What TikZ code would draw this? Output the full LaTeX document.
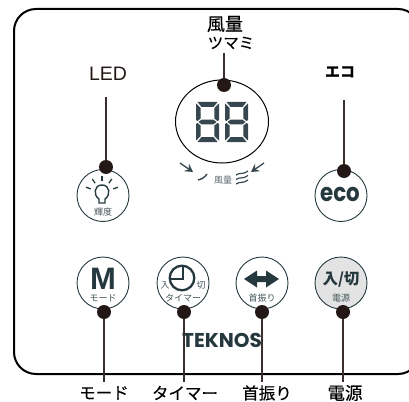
\documentclass[tikz,border=0pt]{standalone}
\usepackage{fontspec}
\setmainfont{Liberation Sans}
\newfontfamily\cjk{Noto Sans CJK JP}
\newfontface\cjkmed[FakeBold=0.25]{Noto Sans CJK JP}
\newfontfamily\logofont{Poppins}
\usetikzlibrary{shapes.geometric,arrows.meta}
\definecolor{panelink}{HTML}{24383E}
\definecolor{segink}{HTML}{36474F}
\definecolor{dotink}{HTML}{231815}
\tikzset{
  btn/.style={circle, draw=panelink, line width=0.9pt, inner sep=0pt, minimum size=52pt},
  dotmark/.style={circle, fill=dotink, inner sep=0pt, minimum size=14pt},
  leader/.style={draw=dotink!90!white, line width=1.2pt},
  biglabel/.style={font=\cjkmed\fontsize{16.5}{18}\selectfont, text=black, inner sep=0pt},
  smalllabel/.style={font=\cjk\fontsize{9}{10}\selectfont, text=panelink!85!white, inner sep=0pt},
}
\begin{document}
\begin{tikzpicture}[x=1pt,y=-1pt]
    \useasboundingbox (0,0) rectangle (409,401);

    % パネル
    \draw[line width=2pt, rounded corners=22pt] (14,9) rectangle (420,374);

    % ボタン
    \node[ellipse, draw=black, line width=1pt, inner sep=0pt, minimum width=93pt, minimum height=83pt] (dial) at (222,121.5) {};
    \node[btn] (ledbtn) at (103,195.5) {};
    \node[btn] (ecobtn) at (341,195.5) {};
    \node[btn] (modebtn) at (103,283) {};
    \node[btn] (timerbtn) at (183,283) {};
    \node[btn] (swingbtn) at (262,283) {};
    \node[btn, fill=black!11] (powerbtn) at (341,283) {};

    % 7セグ表示
    \foreach \x in {196,225} {
      \begin{scope}[shift={(\x,102)}, fill=segink]
        \fill (1.5,0) -- (21.5,0) -- (17.5,5) -- (5.5,5) -- cycle;
        \fill (1.5,40) -- (21.5,40) -- (17.5,35) -- (5.5,35) -- cycle;
        \fill (2.5,20) -- (5.5,17.7) -- (17.5,17.7) -- (20.5,20) -- (17.5,22.3) -- (5.5,22.3) -- cycle;
        \fill (0,1.5) -- (4.7,6) -- (4.7,16.5) -- (1.5,19) -- (0,18) -- cycle;
        \fill (0,22) -- (1.5,21) -- (4.7,23.5) -- (4.7,34) -- (0,38.5) -- cycle;
        \fill (23,1.5) -- (18.3,6) -- (18.3,16.5) -- (21.5,19) -- (23,18) -- cycle;
        \fill (23,22) -- (21.5,21) -- (18.3,23.5) -- (18.3,34) -- (23,38.5) -- cycle;
      \end{scope}
    }

    % 風量の目盛り
    \draw[-{Stealth[length=8pt,width=9pt,inset=3pt]}, segink, line width=1.3pt] (180,163) -- (193,172);
    \draw[-{Stealth[length=8pt,width=9pt,inset=3pt]}, segink, line width=1.3pt] (264,163) -- (251,172);
    \draw[segink, line width=1.4pt] (198,180) to[bend right=20] (207,174);
    \foreach \y in {173,177.5,182} {
      \draw[segink, line width=1.2pt] (236,\y+2) .. controls (240,\y-1) and (243,\y+2) .. (248,\y-2);
    }
    \node[smalllabel, text=segink!80!white] (dialsub) at (223,180) {風量};

    % 輝度ボタン
    \draw[panelink, line width=1.4pt] (99,203) -- (99,199) .. controls (93,195) and (94,185) .. (102,185)
      .. controls (110,185) and (111,195) .. (105,199) -- (105,203) -- cycle;
    \foreach \a in {20,55,90,125,160} {
      \draw[panelink, line width=1.3pt] ({102+12*cos(\a)},{193-12*sin(\a)}) -- ({102+17*cos(\a)},{193-17*sin(\a)});
    }
    \node[smalllabel] (ledsub) at (103,212) {輝度};

    % ecoボタン
    \node[font=\logofont\bfseries\fontsize{24}{24}\selectfont, text=panelink, inner sep=0pt] (ecotext) at (340,194) {\scalebox{0.89}[1.05]{eco}};

    % モードボタン
    \node[font=\bfseries\fontsize{31}{31}\selectfont, text=panelink, inner sep=0pt] (modetext) at (103,279) {M};
    \node[smalllabel] (modesub) at (103,298.5) {モード};

    % タイマーボタン
    \draw[panelink, line width=2.3pt] (182,278) circle (12.3pt);
    \draw[panelink, line width=1.5pt] (183,266) -- (183,279) -- (170,279);
    \node[smalllabel] (timerin) at (165,285) {入};
    \node[smalllabel] (timerout) at (201,285) {切};
    \node[smalllabel] (timersub) at (183,298) {タイマー};

    % 首振りボタン
    \fill[panelink] (244,279) -- (257,270.5) -- (257,276) -- (266,276) -- (266,270.5) -- (279,279)
      -- (266,287.5) -- (266,282) -- (257,282) -- (257,287.5) -- cycle;
    \node[smalllabel] (swingsub) at (262,298) {首振り};

    % 電源ボタン
    \node[font=\cjk\bfseries\fontsize{15.5}{16}\selectfont, text=panelink, inner sep=0pt] (powertext) at (341,280) {入/切};
    \node[smalllabel] (powersub) at (341,298) {電源};

    % ロゴ
    \node[font=\logofont\bfseries\fontsize{20}{20}\selectfont, text=panelink, inner sep=0pt] (logo) at (222,340) {TEKNOS};

    % 引き出し線の端
    \coordinate (ledtop) at (106,97);
    \coordinate (dialtop) at (224,53);
    \coordinate (ecotop) at (344,100);
    \coordinate (modeend) at (104,382);
    \coordinate (timerend) at (184,382);
    \coordinate (swingend) at (262,382);
    \coordinate (powerend) at (343,382);

    % 黒丸
    \node[dotmark] (leddot) at (106,167) {};
    \node[dotmark] (dialdot) at (224,85) {};
    \node[dotmark] (ecodot) at (344,171) {};
    \node[dotmark] (modedot) at (104,312) {};
    \node[dotmark] (timerdot) at (184,312) {};
    \node[dotmark] (swingdot) at (262,312) {};
    \node[dotmark] (powerdot) at (343,312) {};

    % 引き出し線
    \draw[leader] (ledtop) -- (leddot);
    \draw[leader] (dialtop) -- (dialdot);
    \draw[leader] (ecotop) -- (ecodot);
    \draw[leader] (modedot) -- (modeend);
    \draw[leader] (timerdot) -- (timerend);
    \draw[leader] (swingdot) -- (swingend);
    \draw[leader] (powerdot) -- (powerend);

    % ラベル
    \node[font=\fontsize{19.5}{20}\selectfont, text=dotink, inner sep=0pt] (ledlabel) at (108,74) {LED};
    \node[biglabel, font=\cjkmed\fontsize{18}{20}\selectfont] (diallabel) at (225,24) {風量};
    \node[biglabel, font=\cjkmed\fontsize{15.5}{18}\selectfont] (dialsublabel) at (231,43) {ツマミ};
    \node[biglabel, font=\cjk\bfseries\fontsize{15}{18}\selectfont] (ecolabel) at (340,72) {エコ};
    \node[biglabel] (modelabel) at (104,393) {モード};
    \node[biglabel] (timerlabel) at (185,393) {タイマー};
    \node[biglabel] (swinglabel) at (267,393) {首振り};
    \node[biglabel, font=\cjkmed\fontsize{17.5}{18}\selectfont] (powerlabel) at (345,393) {電源};
\end{tikzpicture}
\end{document}
